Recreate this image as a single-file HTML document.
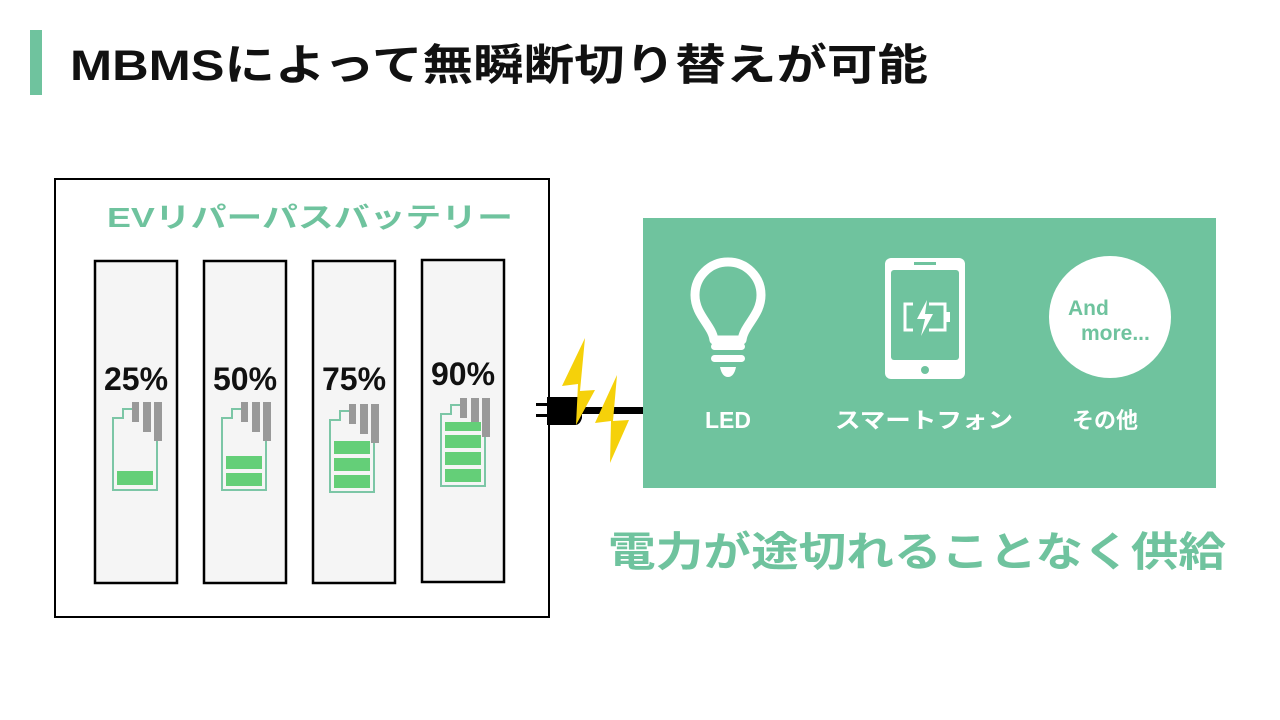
<!DOCTYPE html>
<html><head><meta charset="utf-8"><style>
html,body{margin:0;padding:0;background:#fff;}
svg{display:block;}
text{font-family:"Liberation Sans","Noto Sans CJK JP",sans-serif;font-weight:bold;}
</style></head><body>
<svg width="1280" height="720" viewBox="0 0 1280 720" xmlns="http://www.w3.org/2000/svg">
<defs>
<g id="bat">
  <path d="M44,30 L44,81 L0,81 L0,9 L10,9 L10,0 L20,0" fill="none" stroke="#7cc6a6" stroke-width="2"/>
  <rect x="19" y="-7" width="7" height="20" fill="#999"/>
  <rect x="30" y="-7" width="8" height="30" fill="#999"/>
  <rect x="41" y="-7" width="8" height="39" fill="#999"/>
</g>
</defs>
<rect x="30" y="30" width="12" height="65" fill="#6fc39e"/>
<text x="70" y="80" font-size="43" fill="#111" textLength="858" lengthAdjust="spacingAndGlyphs">MBMSによって無瞬断切り替えが可能</text>

<rect x="55" y="179" width="494" height="438" fill="#fff" stroke="#000" stroke-width="2"/>
<text x="310" y="227" font-size="28" fill="#6fc39e" text-anchor="middle" textLength="406" lengthAdjust="spacingAndGlyphs">EVリパーパスバッテリー</text>

<rect x="95" y="261" width="82" height="322" fill="#f5f5f5" stroke="#000" stroke-width="2.5"/>
<rect x="204" y="261" width="82" height="322" fill="#f5f5f5" stroke="#000" stroke-width="2.5"/>
<rect x="313" y="261" width="82" height="322" fill="#f5f5f5" stroke="#000" stroke-width="2.5"/>
<rect x="422" y="260" width="82" height="322" fill="#f5f5f5" stroke="#000" stroke-width="2.5"/>

<text x="136" y="390" font-size="32" fill="#111" text-anchor="middle">25%</text>
<text x="245" y="390" font-size="32" fill="#111" text-anchor="middle">50%</text>
<text x="354" y="390" font-size="32" fill="#111" text-anchor="middle">75%</text>
<text x="463" y="385" font-size="32" fill="#111" text-anchor="middle">90%</text>

<g transform="translate(113,409)"><use href="#bat"/>
  <rect x="4" y="62" width="36" height="14" fill="#64cf78"/></g>
<g transform="translate(222,409)"><use href="#bat"/>
  <rect x="4" y="64" width="36" height="13" fill="#64cf78"/><rect x="4" y="47" width="36" height="13" fill="#64cf78"/></g>
<g transform="translate(330,411)"><use href="#bat"/>
  <rect x="4" y="64" width="36" height="13" fill="#64cf78"/><rect x="4" y="47" width="36" height="13" fill="#64cf78"/><rect x="4" y="30" width="36" height="13" fill="#64cf78"/></g>
<g transform="translate(441,405)"><use href="#bat"/>
  <rect x="4" y="64" width="36" height="13" fill="#64cf78"/><rect x="4" y="47" width="36" height="13" fill="#64cf78"/><rect x="4" y="30" width="36" height="13" fill="#64cf78"/><rect x="4" y="17" width="36" height="9" fill="#64cf78"/></g>

<rect x="643" y="218" width="573" height="270" fill="#6fc39e"/>
<path d="M714,340 C712,325 695,315 695,295 A33,33 0 1 1 761,295 C761,315 744,325 742,340 Z" fill="none" stroke="#fff" stroke-width="9" stroke-linejoin="round"/>
<rect x="711" y="343" width="34" height="7" rx="3.5" fill="#fff"/>
<rect x="711" y="355" width="34" height="7" rx="3.5" fill="#fff"/>
<path d="M720,367 L736,367 Q734,377 728,377 Q722,377 720,367 Z" fill="#fff"/>
<text x="728" y="428" font-size="23" fill="#fff" text-anchor="middle">LED</text>
<rect x="885" y="258" width="80" height="121" rx="6" fill="#fff"/>
<rect x="891" y="270" width="68" height="90" rx="3" fill="#6fc39e"/>
<rect x="914" y="262" width="22" height="3" fill="#6fc39e"/>
<circle cx="925" cy="370" r="4" fill="#6fc39e"/>
<path d="M913,304 L905,304 L905,330 L913,330 M929,304 L945,304 L945,330 L929,330" fill="none" stroke="#fff" stroke-width="3"/>
<rect x="946" y="312" width="4" height="10" fill="#fff"/>
<path d="M927,300 L917,319 L925,319 L921,336 L933,314 L925,314 Z" fill="#fff"/>
<text x="924" y="428" font-size="22" fill="#fff" text-anchor="middle" textLength="178" lengthAdjust="spacingAndGlyphs">スマートフォン</text>
<circle cx="1110" cy="317" r="61" fill="#fff"/>
<text x="1068" y="315" font-size="21" fill="#6fc39e">And</text>
<text x="1081" y="340" font-size="21" fill="#6fc39e">more...</text>
<text x="1105" y="428" font-size="22" fill="#fff" text-anchor="middle">その他</text>

<text x="917" y="566" font-size="41" fill="#6fc39e" text-anchor="middle" textLength="618" lengthAdjust="spacingAndGlyphs">電力が途切れることなく供給</text>

<rect x="578" y="407" width="65" height="7" fill="#000"/>
<rect x="536" y="403" width="12" height="3" fill="#000"/>
<rect x="536" y="414" width="12" height="3" fill="#000"/>
<path d="M547,397 L578,397 Q582,397 582,402 L582,418 Q580,425 575,425 L547,425 Z" fill="#000"/>
<polygon points="585,338 562,386 578,384 576,425 595,390 580,391" fill="#f5d10a"/>
<polygon points="617,375 595,423 611,421 610,463 629,420 613,421" fill="#f5d10a"/>
</svg>
</body></html>
